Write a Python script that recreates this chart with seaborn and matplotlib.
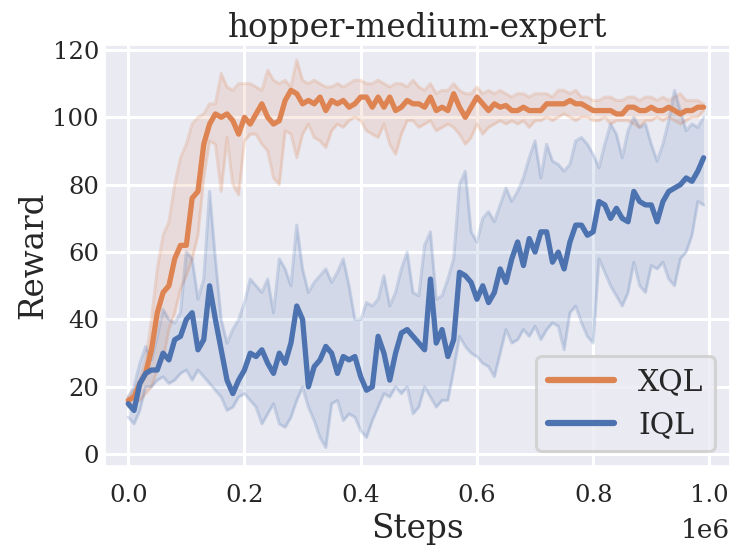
import numpy as np
import pandas as pd
import matplotlib
matplotlib.use("Agg")
import matplotlib.pyplot as plt
import seaborn as sns

# passos de treino (a cada 10k steps)
steps = np.arange(100) * 10000

# XQL: média e faixa (min / max)
xql_mean = [16, 17, 21, 24, 31, 42, 48, 50, 58, 62,
            62, 76, 78, 92, 98, 101, 100, 101, 99, 95,
            100, 98, 101, 104, 100, 98, 99, 105, 108, 107,
            104, 105, 104, 106, 102, 105, 104, 105, 103, 104,
            106, 106, 103, 106, 103, 106, 102, 103, 105, 104,
            104, 103, 106, 102, 103, 102, 107, 103, 100, 103,
            106, 104, 102, 104, 103, 103.5, 102, 102, 103, 102,
            102, 102, 104, 104, 104, 104, 105, 104, 104, 103,
            102, 102, 102, 102, 101, 101, 103, 103, 102, 102,
            103, 102, 102, 103, 102, 101, 102, 102, 103, 103]
xql_hi = [17, 19, 22, 28, 40, 55, 65, 69, 80, 88,
          92, 98, 100, 101, 104, 104, 113, 109, 108, 110,
          110, 110, 109, 108, 114, 111, 110, 111, 109, 117,
          111, 110, 111, 110, 109, 109, 110, 109, 110, 111,
          111, 110, 110, 111, 110, 109, 110, 110, 109, 111,
          109, 108, 110, 107, 108, 108, 110, 108, 107, 107,
          109, 107, 108, 107, 108, 107, 106, 107, 107, 106,
          107, 107, 107, 106, 108, 108, 107, 108, 106, 106,
          105, 105, 106, 106, 105, 105, 106, 106, 105, 106,
          106, 105, 106, 105, 106, 107, 105, 105, 105, 104]
xql_lo = [14, 15, 16, 18, 20, 25, 28, 37, 42, 49,
          53, 58, 65, 82, 93, 92, 78, 94, 80, 77,
          93, 95, 95, 92, 90, 82, 80, 96, 95, 88,
          95, 98, 94, 93, 91, 96, 98, 97, 99, 100,
          99, 96, 95, 94, 98, 92, 89, 95, 99, 99,
          97, 98, 99, 96, 97, 98, 97, 95, 92, 94,
          98, 95, 97, 98, 99, 98, 99, 98, 99, 97,
          99, 99, 100, 99, 100, 101, 100, 99, 100, 100,
          99, 99, 100, 98, 99, 99, 99, 98, 97, 99,
          99, 100, 99, 100, 99, 98, 99, 100, 100, 102]

# IQL
iql_mean = [15, 13, 21, 24, 25, 25, 30, 28, 34, 35,
            40, 42, 31, 34, 50, 40, 31, 22, 18, 22,
            25, 30, 29, 31, 27, 24, 30, 27, 33, 44,
            40, 20, 26, 28, 32, 30, 24, 29, 28, 29,
            23, 19, 20, 35, 30, 22, 30, 36, 37, 35,
            33, 31, 52, 33, 37, 29, 34, 54, 53, 51,
            46, 50, 45, 48, 55, 51, 58, 63, 56, 64,
            60, 66, 66, 57, 60, 55, 63, 68, 68, 65,
            66, 75, 74, 70, 73, 70, 69, 78, 75, 74,
            74, 69, 75, 78, 79, 80, 82, 81, 84, 88]
iql_hi = [17, 20, 27, 32, 28, 35, 43, 40, 39, 42,
          60, 58, 46, 52, 78, 58, 40, 33, 37, 40,
          45, 52, 50, 48, 52, 42, 58, 55, 50, 68,
          55, 48, 51, 53, 55, 51, 54, 58, 50, 40,
          40, 45, 44, 46, 53, 44, 48, 55, 60, 48,
          47, 62, 66, 46, 47, 52, 58, 80, 84, 66,
          63, 70, 72, 69, 74, 79, 75, 78, 82, 88,
          93, 82, 92, 87, 86, 84, 86, 93, 94, 92,
          89, 85, 92, 98, 95, 88, 96, 100, 97, 98,
          92, 87, 92, 99, 108, 102, 96, 98, 97, 100]
iql_lo = [11, 9, 13, 20, 20, 22, 23, 21, 22, 24,
          25, 22, 25, 23, 21, 19, 17, 13, 14, 17,
          18, 16, 14, 9, 12, 15, 9, 8, 11, 16,
          20, 14, 10, 5, 2, 15, 16, 10, 12, 11,
          7, 5, 10, 14, 18, 17, 20, 18, 20, 12,
          14, 20, 17, 14, 16, 16, 25, 35, 32, 30,
          29, 27, 26, 23, 30, 37, 33, 34, 37, 35,
          38, 34, 37, 39, 38, 31, 42, 44, 39, 35,
          33, 58, 54, 50, 47, 44, 48, 57, 50, 48,
          56, 55, 57, 52, 50, 58, 60, 65, 75, 74]

sns.set_theme(style="darkgrid", rc={'grid.linewidth': 2.2})
plt.rcParams['font.family'] = ['DejaVu Serif']

pal = sns.color_palette("deep")
cores = {'XQL': pal[1], 'IQL': pal[0]}

df = pd.concat([
    pd.DataFrame({'Steps': steps, 'Reward': xql_mean, 'lo': xql_lo, 'hi': xql_hi, 'algo': 'XQL'}),
    pd.DataFrame({'Steps': steps, 'Reward': iql_mean, 'lo': iql_lo, 'hi': iql_hi, 'algo': 'IQL'}),
])

fig, ax = plt.subplots(figsize=(7.34, 5.47), dpi=100)
fig.subplots_adjust(left=0.143, right=0.995, bottom=0.148, top=0.918)

for nome in ['XQL', 'IQL']:
    d = df[df['algo'] == nome]
    c = cores[nome]
    ax.fill_between(d['Steps'], d['lo'], d['hi'], color=c, alpha=0.15, lw=0)
    ax.plot(d['Steps'], d['lo'], color=c, alpha=0.22, lw=2.2)
    ax.plot(d['Steps'], d['hi'], color=c, alpha=0.22, lw=2.2)

sns.lineplot(data=df, x='Steps', y='Reward', hue='algo', palette=cores,
             linewidth=3.8, ax=ax, errorbar=None)

ax.set_xlim(-0.04e6, 1.036e6)
ax.set_ylim(-3.5, 121.5)
ax.set_title('hopper-medium-expert', fontsize=23.5)
ax.set_xlabel('Steps', fontsize=23.5, labelpad=4)
ax.set_ylabel('Reward', fontsize=23.5, labelpad=2)
ax.tick_params(labelsize=17.5, length=0)
ax.tick_params(axis='x', pad=13)
ax.tick_params(axis='y', pad=4.3)
ax.xaxis.get_offset_text().set_fontsize(19)
ax.xaxis.OFFSETTEXTPAD = 8
ax.set_yticks([0, 20, 40, 60, 80, 100, 120])

leg = ax.legend(loc='lower right', fontsize=21.5, frameon=True, framealpha=0.8,
                edgecolor='#cccccc', handlelength=2.2)
leg.get_frame().set_linewidth(2.2)
for linha in leg.get_lines():
    linha.set_linewidth(4.5)

plt.savefig('out.png', dpi=100)
